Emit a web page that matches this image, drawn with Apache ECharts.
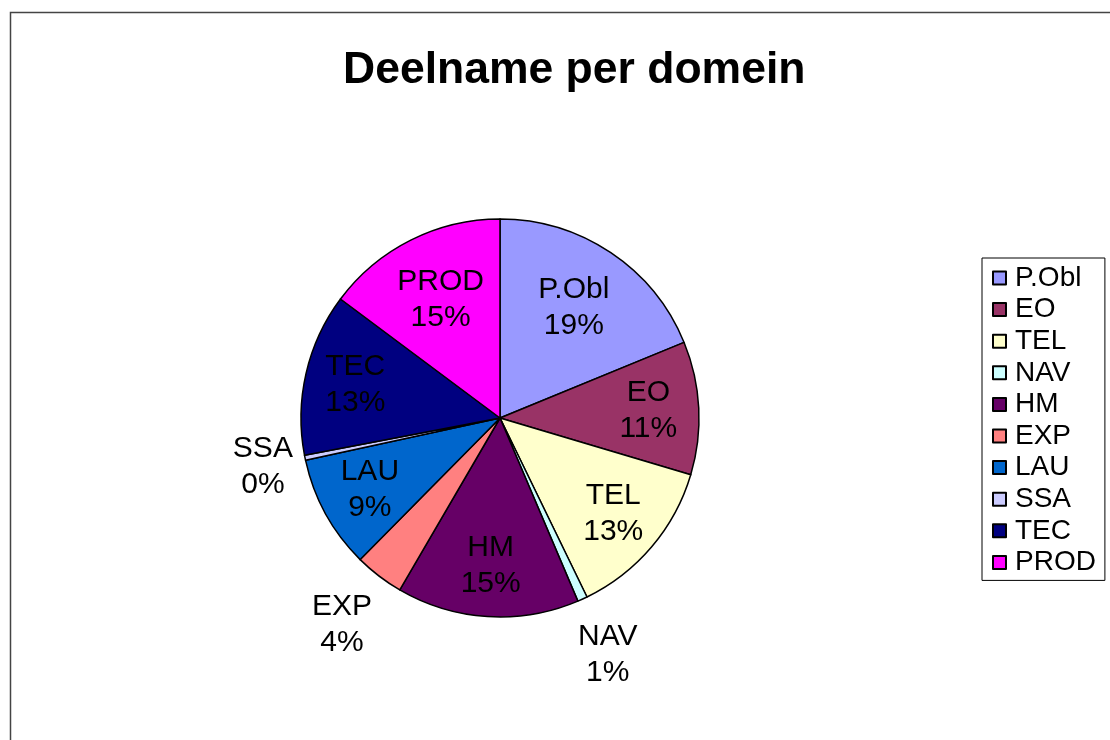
<!DOCTYPE html>
<html>
<head>
<meta charset="utf-8">
<script src="https://cdn.jsdelivr.net/npm/echarts@6/dist/echarts.min.js"></script>
<style>
  html, body { margin: 0; padding: 0; background: #fff; }
  #chart { width: 1110px; height: 740px; }
</style>
</head>
<body>
<div id="chart"></div>
<script>
// deelnemers per domein
var domains = ['P.Obl', 'EO', 'TEL', 'NAV', 'HM', 'EXP', 'LAU', 'SSA', 'TEC', 'PROD'];
var counts = [47, 27, 33, 2, 37, 10, 23, 1, 33, 37];
var colors = ['#9999FF', '#993366', '#FFFFCC', '#CCFFFF', '#660066', '#FF8080', '#0066CC', '#CCCCFF', '#000080', '#FF00FF'];

// which labels go where (in the slice / outside it)
var topLabels = ['P.Obl', 'PROD'];
var innerLabels = ['EO', 'TEL', 'HM', 'LAU', 'TEC'];
var outerLabels = ['NAV', 'EXP'];
var ssaLabel = ['SSA'];

var FONT = "'Liberation Sans', Arial, sans-serif";
var center = [500, 418];

function labelSeries(radius, shown) {
	return {
		type: 'pie',
		silent: true,
		center: center,
		radius: radius,
		startAngle: 90,
		percentPrecision: 0,
		itemStyle: { color: 'transparent', borderWidth: 0 },
		label: {
			show: true,
			position: 'inside',
			formatter: '{b}\n{d}%',
			color: '#000',
			fontFamily: FONT,
			fontSize: 30,
			lineHeight: 36,
			textBorderWidth: 0
		},
		labelLine: { show: false },
		emphasis: { disabled: true },
		data: domains.map(function (n, i) {
			return { name: n, value: counts[i], label: { show: shown.indexOf(n) >= 0 } };
		})
	};
}

var chart = echarts.init(document.getElementById('chart'));
chart.setOption({
	animation: false,
	color: colors,
	title: {
		text: 'Deelname per domein',
		left: 338,
		top: 43,
		textStyle: { fontFamily: FONT, fontSize: 44.5, fontWeight: 'bold', color: '#000' }
	},
	legend: {
		orient: 'vertical',
		left: 982,
		top: 258,
		data: domains,
		icon: 'rect',
		itemWidth: 13,
		itemHeight: 13,
		itemGap: 3.6,
		padding: [6, 9, 4, 10],
		borderColor: '#000',
		borderWidth: 1,
		itemStyle: { borderColor: '#000', borderWidth: 2 },
		textStyle: { fontFamily: FONT, fontSize: 28, lineHeight: 26, color: '#000', padding: [0, 0, 0, 4] }
	},
	graphic: [{
		type: 'rect',
		silent: true,
		shape: { x: 10.5, y: 12.5, width: 1300, height: 900 },
		style: { fill: 'none', stroke: '#444', lineWidth: 1.5 }
	}],
	series: [
		{
			type: 'pie',
			center: center,
			radius: 199,
			startAngle: 90,
			clockwise: true,
			itemStyle: { borderColor: '#000', borderWidth: 1.5 },
			label: { show: false },
			labelLine: { show: false },
			emphasis: { disabled: true },
			data: domains.map(function (n, i) {
				return { name: n, value: counts[i] };
			})
		},
		labelSeries([60, 199], topLabels),
		labelSeries([92, 199], innerLabels),
		labelSeries([199, 315], outerLabels),
		labelSeries([199, 279], ssaLabel)
	]
});
</script>
</body>
</html>
